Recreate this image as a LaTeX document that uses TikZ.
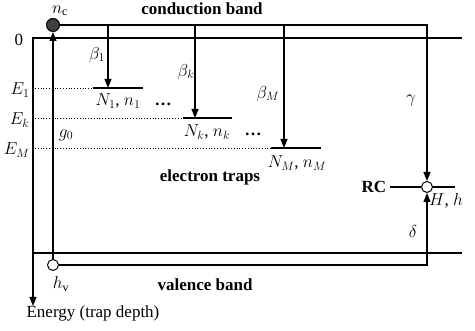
\documentclass[tikz,border=0pt]{standalone}
\usepackage{fontspec}
\setmainfont{Liberation Serif}
\usetikzlibrary{arrows.meta,positioning,calc}

\begin{document}
\begin{tikzpicture}[x=1pt,y=-1pt,line width=1.2pt,
    font=\fontsize{17}{20}\selectfont,
    >={Triangle[length=9pt,width=7pt]},
    carrier/.style={circle,draw,line width=1pt,minimum size=11pt,inner sep=0pt},
    level/.style={dotted,line width=0.8pt},
    band/.style={font=\fontsize{17}{20}\selectfont\bfseries}]
    \useasboundingbox (0,0) rectangle (475,331);

    % carriers and recombination centre
    \node[carrier,fill=black!75,minimum size=13pt] (nc) at (53,25) {};
    \node[carrier] (hv) at (53,265) {};
    \node[carrier] (rc) at (427,187) {};
    \node[inner sep=0pt] (nclab) at (60,11) {$n_{\mathrm{c}}$};
    \node (hvlab) at (61,284) {$h_{\mathrm{v}}$};

    % energy axis and band edges
    \coordinate (zero) at (33,38);
    \coordinate (zeroR) at (462,38);
    \coordinate (axis) at (33,306);
    \node[anchor=north west,inner sep=0pt] (energy) at (26,305) {Energy (trap depth)};
    \draw[->] (zeroR) -- (zero) -- (axis);
    \node (zlab) at (19,40) {0};
    \coordinate (vl) at (33,253);
    \coordinate (vr) at (462,253);
    \draw (vl) -- (vr);

    % conduction band -> RC -> valence band
    \coordinate (ct) at (427,25);
    \coordinate (vb) at (427,265);
    \draw[->] (nc) -- (ct) -- (rc);
    \draw[->] (hv) -- (vb) -- (rc);
    \draw[->] (hv) -- (nc);
    \node (gam) at (411,100) {$\gamma$};
    \node (del) at (413,232) {$\delta$};
    \node[band] (rclab) at (374,187) {RC};
    \coordinate (rcR) at (455,187);
    \draw (rclab) -- (rc) -- (rcR);
    \node (hh) at (446,201) {$H$, $h$};

    % trap levels
    \foreach \name/\y/\xa/\xb/\xc in {1/88/93/108/143,k/118/183/195/232,M/148/271/284/321} {
        \draw[level] (35,\y) -- (\xa,\y);
        \draw (\xa,\y) -- (\xc,\y);
        \coordinate (t\name) at (\xb,\y);
        \draw[->] (t\name |- ct) -- (t\name);
        \node[anchor=east,inner sep=1pt] (e\name) at (31,\y+2) {$E_{\name}$};
    }
    \node (b1) at (97,55) {$\beta_1$};
    \node (bk) at (186,72) {$\beta_k$};
    \node (bM) at (268,94) {$\beta_M$};
    \node (n1) at (118,101) {$N_1$, $n_1$};
    \node (nk) at (207,132) {$N_k$, $n_k$};
    \node (nM) at (297,163) {$N_M$, $n_M$};
    \node[band] (dots1) at (163,104) {\ldots};
    \node[band] (dots2) at (253,134) {\ldots};
    \node (g0) at (66,135) {$g_0$};

    % band names
    \node[band] (cb) at (202,9) {conduction band};
    \node[band] (et) at (210,177) {electron traps};
    \node[band] (vbl) at (205,285) {valence band};
\end{tikzpicture}
\end{document}
